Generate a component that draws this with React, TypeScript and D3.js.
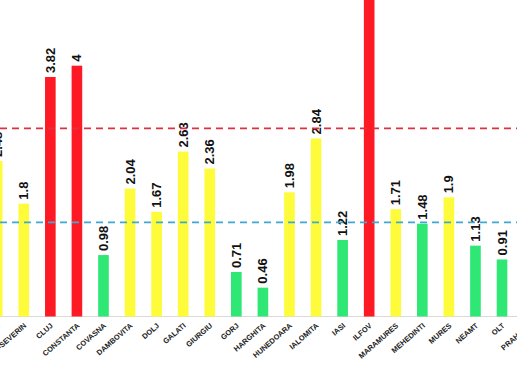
import React from "react";
import * as d3 from "d3";

const categories = [
  "CALARASI", "CARAS-SEVERIN", "CLUJ", "CONSTANTA", "COVASNA", "DAMBOVITA", "DOLJ",
  "GALATI", "GIURGIU", "GORJ", "HARGHITA", "HUNEDOARA", "IALOMITA", "IASI", "ILFOV",
  "MARAMURES", "MEHEDINTI", "MURES", "NEAMT", "OLT", "PRAHOVA",
];
const values = [
  2.48, 1.8, 3.82, 4, 0.98, 2.04, 1.67, 2.63, 2.36, 0.71, 0.46, 1.98, 2.84, 1.22, 5.5,
  1.71, 1.48, 1.9, 1.13, 0.91, 1.6,
];
const highThreshold = 3;
const midThreshold = 1.5;

const W = 517;
const H = 376;

export default function App() {
  const step = 26.57;
  const firstCenter = -2.8;
  const x = d3
    .scaleBand<string>()
    .domain(categories)
    .range([firstCenter - step / 2, firstCenter - step / 2 + step * categories.length])
    .paddingInner(0.6)
    .paddingOuter(0.3);
  const y = d3.scaleLinear().domain([0, 5]).range([316.5, 3]);
  const color = (v: number) =>
    v >= highThreshold ? "#fe1a24" : v >= midThreshold ? "#fdfb3a" : "#2ee774";
  const bw = x.bandwidth();

  return (
    <svg
      width={W}
      height={H}
      style={{ position: "absolute", left: 0, top: 0, background: "#fff" }}
      fontFamily="'Liberation Sans', Arial, sans-serif"
    >
      <rect width={W} height={H} fill="#fff" />
      <line x1={0} x2={W} y1={y(0)} y2={y(0)} stroke="#d9d9d9" strokeWidth={1} />
      {categories.map((c, i) => {
        const v = values[i];
        const cx = (x(c) as number) + bw / 2;
        return (
          <g key={c}>
            <rect x={x(c)} y={y(v)} width={bw} height={y(0) - y(v)} fill={color(v)} />
            <text
              transform={`translate(${cx},${y(v) - 4}) rotate(-90)`}
              fontSize={13}
              fontWeight="bold"
              dominantBaseline="central"
              textAnchor="start"
              fill="#111"
            >
              {v}
            </text>
            <text
              transform={`translate(${cx + 1.5},${y(0) + 8}) rotate(-41)`}
              fontSize={7.5}
              fontWeight="bold"
              textAnchor="end"
              dominantBaseline="central"
              fill="#222"
            >
              {c}
            </text>
          </g>
        );
      })}
      <line
        x1={0}
        x2={W}
        y1={y(highThreshold)}
        y2={y(highThreshold)}
        stroke="#e0303f"
        strokeWidth={1.8}
        strokeDasharray="7,5"
      />
      <line
        x1={0}
        x2={W}
        y1={y(midThreshold)}
        y2={y(midThreshold)}
        stroke="#3fa9d6"
        strokeWidth={1.8}
        strokeDasharray="7,5"
      />
    </svg>
  );
}
